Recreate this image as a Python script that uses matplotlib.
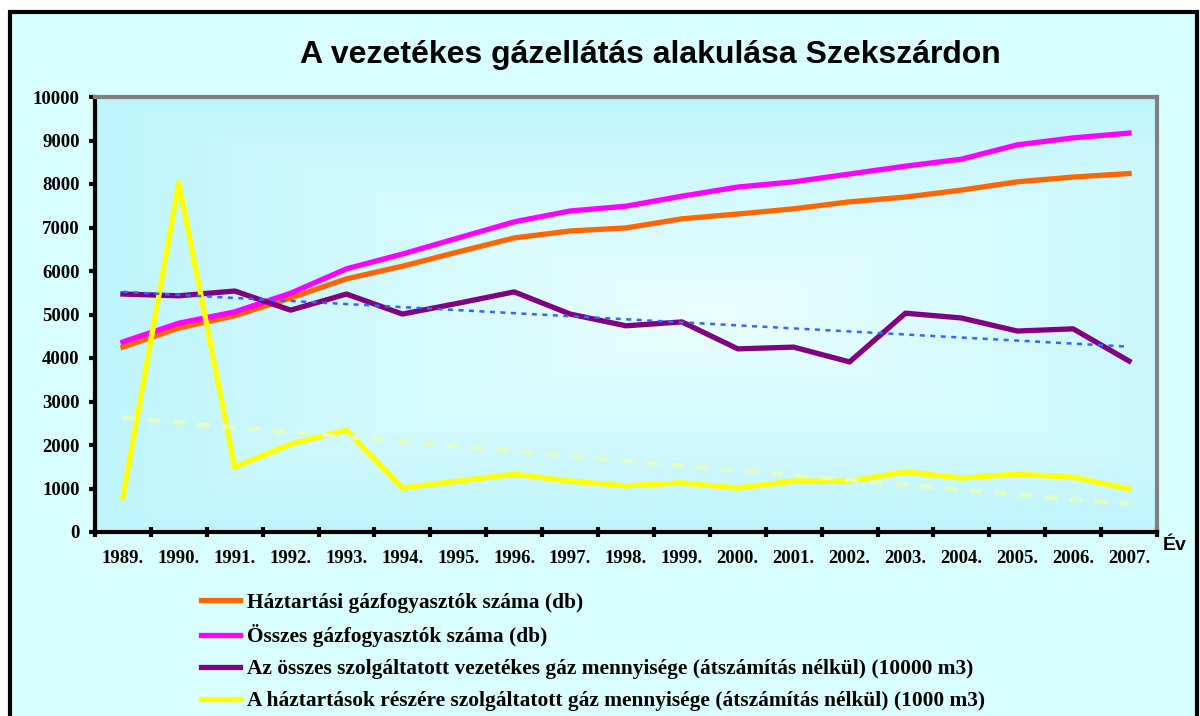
import numpy as np
import matplotlib
matplotlib.use("Agg")
import matplotlib.pyplot as plt
from matplotlib.patches import Rectangle

# data
years = ["1989.", "1990.", "1991.", "1992.", "1993.", "1994.", "1995.", "1996.", "1997.", "1998.",
         "1999.", "2000.", "2001.", "2002.", "2003.", "2004.", "2005.", "2006.", "2007."]
haztartasi = [4250, 4690, 4970, 5380, 5820, 6110, 6440, 6760, 6920, 6990,
              7200, 7310, 7430, 7590, 7700, 7860, 8050, 8160, 8240]
osszes = [4370, 4800, 5060, 5490, 6050, 6390, 6760, 7130, 7380, 7490,
          7720, 7930, 8050, 8230, 8410, 8570, 8900, 9060, 9170]
gaz_osszes = [5470, 5430, 5540, 5100, 5470, 5010, 5260, 5520, 5010, 4740,
              4830, 4210, 4250, 3910, 5030, 4920, 4620, 4670, 3930]
gaz_haztartas = [800, 8020, 1490, 2020, 2340, 1010, 1170, 1330, 1170, 1060,
                 1130, 1010, 1170, 1170, 1380, 1240, 1330, 1260, 990]

labels = ["Háztartási gázfogyasztók száma (db)",
          "Összes gázfogyasztók száma (db)",
          "Az összes szolgáltatott vezetékes gáz mennyisége (átszámítás nélkül) (10000 m3)",
          "A háztartások részére szolgáltatott gáz mennyisége (átszámítás nélkül) (1000 m3)"]

serif = "Liberation Serif"
sans = "Liberation Sans"

fig = plt.figure(figsize=(12, 7.16), dpi=100, facecolor="white")
frame = Rectangle((10 / 1200, -0.1), 1187 / 1200, 1.1 - 12 / 716,
                  transform=fig.transFigure, facecolor="#D9FFFF",
                  edgecolor="black", linewidth=3, zorder=-10)
fig.patches.append(frame)

ax = fig.add_axes([95 / 1200, (716 - 532) / 716, 1062 / 1200, 435 / 716])
ax.set_facecolor("#C8FAFC")

# plot area gradient
gx, gy = np.meshgrid(np.linspace(0, 1, 300), np.linspace(0, 1, 200))
t = np.clip(np.maximum(np.abs(gx - 0.58) / 0.6, np.abs(gy - 0.5) / 0.52), 0, 1)
c0 = np.array([0.92, 1.0, 1.0])
c1 = np.array([0.74, 0.96, 0.99])
img = c0[None, None, :] * (1 - t[..., None]) + c1[None, None, :] * t[..., None]
ax.imshow(img, extent=[0, 1, 0, 1], transform=ax.transAxes, aspect="auto", zorder=0)

x = np.arange(len(years))
ax.plot(x, haztartasi, color="#FF6600", lw=3.8, zorder=3, label=labels[0])
ax.plot(x, osszes, color="#FF00FF", lw=3.8, zorder=3, label=labels[1])
ax.plot(x, gaz_osszes, color="#800080", lw=3.8, zorder=3, label=labels[2])
ax.plot(x, gaz_haztartas, color="#FFFF00", lw=3.8, zorder=3, label=labels[3])

# linear trendlines
p1 = np.polyfit(x, gaz_osszes, 1)
ax.plot(x, np.polyval(p1, x), color="#3366FF", lw=1.8, ls=(0, (2, 2.2)), zorder=4)
p2 = np.polyfit(x, gaz_haztartas, 1)
ax.plot(x, np.polyval(p2, x), color="#E2FFC4", lw=3, ls=(0, (3, 3)), zorder=4)

ax.set_xlim(-0.5, len(years) - 0.5)
ax.set_ylim(0, 10000)
ax.set_yticks(np.arange(0, 10001, 1000))
ax.set_xticks(x)
ax.set_xticklabels(years)
ax.set_xticks(np.arange(-0.5, len(years), 1), minor=True)
ax.tick_params(axis="x", which="major", length=0, pad=13)
ax.tick_params(axis="x", which="minor", direction="inout", length=7, width=3)
ax.tick_params(axis="y", direction="out", length=4, width=3, pad=7)
for lab in ax.get_xticklabels() + ax.get_yticklabels():
    lab.set_fontfamily(serif)
    lab.set_fontweight("bold")
    lab.set_fontsize(13.5)

for s in ["left", "bottom"]:
    ax.spines[s].set_color("black")
    ax.spines[s].set_linewidth(3)
for s in ["top", "right"]:
    ax.spines[s].set_color("#808080")
    ax.spines[s].set_linewidth(3)

fig.text(650 / 1200, 1 - 55 / 716, "A vezetékes gázellátás alakulása Szekszárdon",
         ha="center", va="center", fontfamily=sans, fontweight="bold", fontsize=23)
fig.text(1163 / 1200, 1 - 545 / 716, "Év", ha="left", va="center",
         fontfamily=sans, fontweight="bold", fontsize=14)

fig.legend(loc="upper left", bbox_to_anchor=(190 / 1200, 1 - 582 / 716), frameon=False,
           prop={"family": serif, "weight": "bold", "size": 15.4},
           handlelength=1.85, handletextpad=0.3, labelspacing=0.55, borderpad=0)

fig.savefig("out.png", dpi=100, facecolor="white")
